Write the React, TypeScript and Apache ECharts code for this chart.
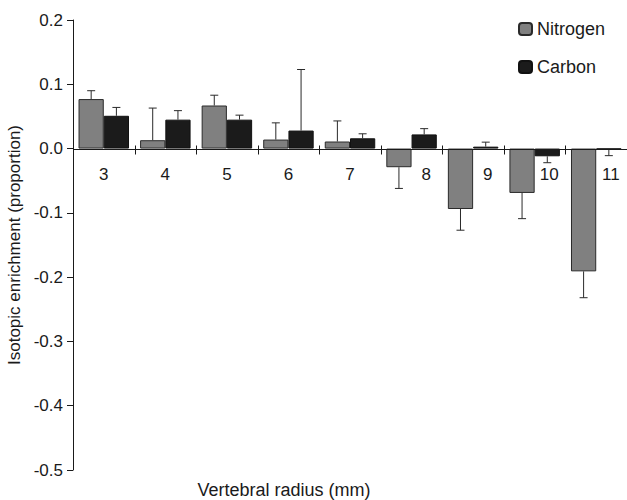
import React, { useEffect, useRef } from "react";
import * as echarts from "echarts";

const categories = ["3", "4", "5", "6", "7", "8", "9", "10", "11"];
const nitrogen = [0.077, 0.013, 0.067, 0.014, 0.011, -0.029, -0.094, -0.069, -0.191];
const nitrogenErr = [0.013, 0.05, 0.016, 0.026, 0.032, 0.033, 0.033, 0.04, 0.041];
const carbon = [0.051, 0.045, 0.045, 0.028, 0.016, 0.022, 0.003, -0.012, -0.001];
const carbonErr = [0.013, 0.014, 0.007, 0.095, 0.007, 0.009, 0.007, 0.01, 0.01];
const yTicks = { min: -0.5, max: 0.2, interval: 0.1 };

const FONT = "Liberation Sans, Arial, sans-serif";
const CAT_GAP = 0.18;
const INK = "#1a1a1a";

function errSeries(name: string, vals: number[], errs: number[], side: number) {
  return {
    type: "custom",
    name,
    z: 5,
    silent: true,
    renderItem: (params: any, api: any) => {
      const idx = api.value(0);
      const v = api.value(1);
      const e = api.value(2);
      const catW = api.size([1, 0])[0];
      const barW = (catW * (1 - CAT_GAP)) / 2;
      const base = api.coord([idx, v]);
      const end = api.coord([idx, v + (v >= 0 ? e : -e)]);
      const x = base[0] + (side * barW) / 2;
      const style = { stroke: "#2a2a2a", lineWidth: 1 };
      return {
        type: "group",
        children: [
          { type: "line", shape: { x1: x, y1: base[1], x2: x, y2: end[1] }, style },
          { type: "line", shape: { x1: x - 4, y1: end[1], x2: x + 4, y2: end[1] }, style },
        ],
      };
    },
    data: vals.map((v, i) => [i, v, errs[i]]),
  };
}

// zero-line category axis drawn on y = 0: line, boundary ticks, labels
const zeroAxisSeries = {
  type: "custom",
  name: "zeroAxis",
  z: 6,
  silent: true,
  renderItem: (params: any, api: any) => {
    const idx = api.value(0);
    const catW = api.size([1, 0])[0];
    const barW = (catW * (1 - CAT_GAP)) / 2;
    const p = api.coord([idx, 0]);
    const y0 = Math.round(p[1]) + 0.5;
    const cs = params.coordSys;
    // when the nitrogen bar hangs below zero, the label sits under the carbon bar
    const lx = nitrogen[idx] < 0 ? p[0] + barW / 2 + 2 : p[0];
    const children: any[] = [
      {
        type: "text",
        x: lx,
        y: y0 + 25,
        style: {
          text: categories[idx],
          fontSize: 17,
          fontFamily: FONT,
          fill: INK,
          align: "center",
          verticalAlign: "middle",
        },
      },
    ];
    if (idx === 0) {
      children.push({
        type: "line",
        shape: { x1: cs.x, y1: y0, x2: cs.x + cs.width, y2: y0 },
        style: { stroke: INK, lineWidth: 1 },
      });
    } else {
      const x = Math.round(p[0] - catW / 2) + 0.5;
      children.push({
        type: "line",
        shape: { x1: x, y1: y0 - 4, x2: x, y2: y0 + 5 },
        style: { stroke: INK, lineWidth: 1 },
      });
    }
    return { type: "group", children };
  },
  data: categories.map((_, i) => [i, 0]),
};

export default function App() {
  const ref = useRef<HTMLDivElement>(null);
  useEffect(() => {
    document.body.style.margin = "0";
    const chart = echarts.init(ref.current!, null, { renderer: "svg" });
    chart.setOption({
      animation: false,
      textStyle: { fontFamily: FONT },
      grid: { left: 73, right: 0, top: 20, bottom: 30, containLabel: false, outerBoundsMode: "none" },
      legend: {
        data: ["Nitrogen", "Carbon"],
        orient: "vertical",
        left: 518,
        top: 20,
        padding: 0,
        itemWidth: 13,
        itemHeight: 12,
        itemGap: 20,
        textStyle: { fontSize: 18, color: INK, fontFamily: FONT, lineHeight: 18 },
      },
      xAxis: {
        type: "category",
        data: categories,
        axisLine: { show: false },
        axisTick: { show: false },
        axisLabel: { show: false },
        splitLine: { show: false },
      },
      yAxis: {
        type: "value",
        min: yTicks.min,
        max: yTicks.max,
        interval: yTicks.interval,
        name: "Isotopic enrichment (proportion)",
        nameLocation: "middle",
        nameGap: 48,
        nameTextStyle: { fontSize: 17, color: INK, fontFamily: FONT },
        axisLine: { show: true, onZero: false, lineStyle: { color: INK, width: 1 } },
        axisTick: { show: true, length: 6, lineStyle: { color: INK } },
        axisLabel: {
          fontSize: 17,
          color: INK,
          margin: 10,
          fontFamily: FONT,
          formatter: (v: number) => v.toFixed(1),
        },
        splitLine: { show: false },
      },
      graphic: [
        {
          type: "text",
          x: 284,
          y: 490,
          style: {
            text: "Vertebral radius (mm)",
            fontSize: 18,
            fontFamily: FONT,
            fill: INK,
            align: "center",
            verticalAlign: "middle",
          },
        },
      ],
      series: [
        {
          name: "Nitrogen",
          type: "bar",
          data: nitrogen,
          barGap: "0%",
          barCategoryGap: CAT_GAP * 100 + "%",
          itemStyle: { color: "#808080", borderColor: "#2a2a2a", borderWidth: 1 },
        },
        {
          name: "Carbon",
          type: "bar",
          data: carbon,
          barGap: "0%",
          barCategoryGap: CAT_GAP * 100 + "%",
          itemStyle: { color: "#1b1b1b", borderColor: "#111111", borderWidth: 1 },
        },
        errSeries("NitrogenErr", nitrogen, nitrogenErr, -1),
        errSeries("CarbonErr", carbon, carbonErr, 1),
        zeroAxisSeries,
      ],
    });
    return () => chart.dispose();
  }, []);
  return <div ref={ref} style={{ width: 627, height: 500 }} />;
}
